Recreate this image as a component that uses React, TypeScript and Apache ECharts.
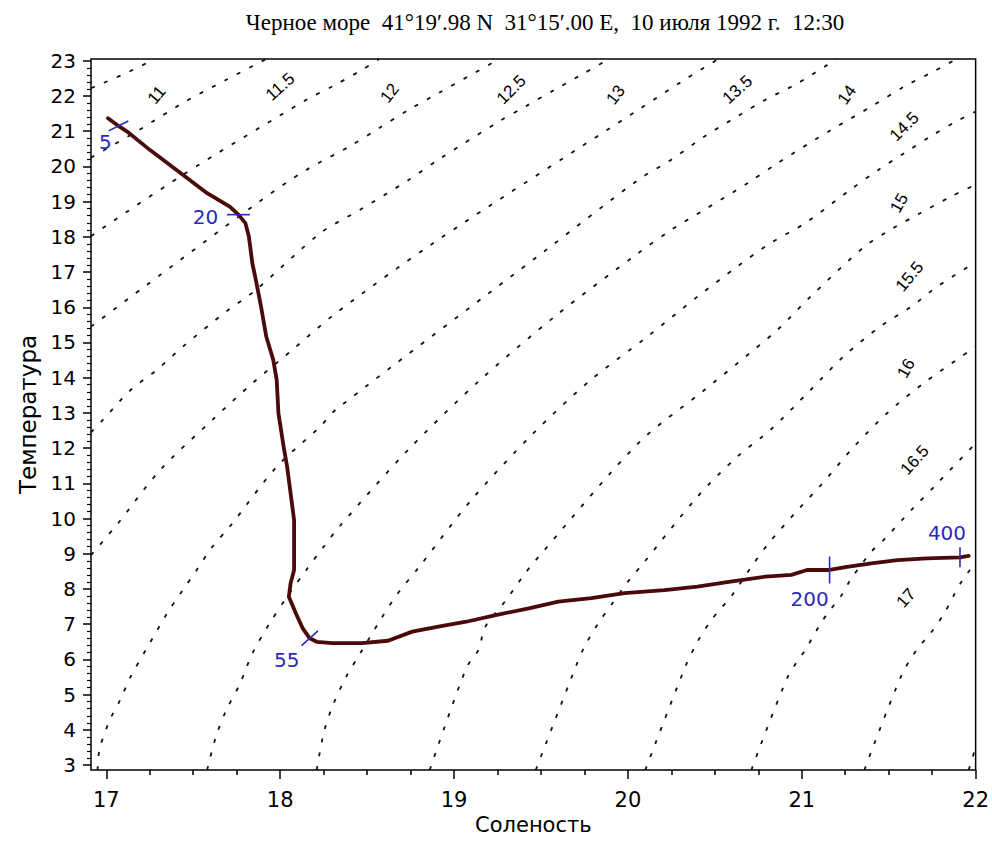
import React, { useEffect, useRef } from 'react';
import * as echarts from 'echarts';

// ---------- texts ----------
const TITLE = 'Черное море\u00a0 41°19′.98 N\u00a0 31°15′.00 E,\u00a0 10 июля 1992 г.\u00a0 12:30';
const X_NAME = 'Соленость';
const Y_NAME = 'Температура';

// ---------- axes ----------
const X_MIN = 16.912;
const X_MAX = 22;
const Y_MIN = 2.86;
const Y_MAX = 23.05;
const xTickValues = [17, 18, 19, 20, 21, 22];
const yTickValues = [3, 4, 5, 6, 7, 8, 9, 10, 11, 12, 13, 14, 15, 16, 17, 18, 19, 20, 21, 22, 23];

// ---------- T-S profile ----------
const profileSalinity = [
  17.01, 17.07, 17.12, 17.25, 17.44, 17.58, 17.71, 17.76, 17.8, 17.82, 17.84, 17.86, 17.89, 17.92,
  17.96, 17.98, 17.99, 18.02, 18.04, 18.06, 18.08, 18.08, 18.06, 18.05, 18.09, 18.13, 18.17, 18.21,
  18.3, 18.47, 18.62, 18.76, 18.91, 19.07, 19.24, 19.43, 19.6, 19.79, 19.98, 20.21, 20.4, 20.59,
  20.79, 20.94, 21.03, 21.16, 21.26, 21.4, 21.55, 21.72, 21.91, 21.96,
];
const profileTemperature = [
  21.37, 21.15, 20.99, 20.47, 19.76, 19.24, 18.86, 18.63, 18.39, 18.01, 17.25, 16.78, 16.02, 15.17,
  14.51, 13.94, 12.99, 12.04, 11.47, 10.72, 9.96, 8.54, 8.16, 7.78, 7.31, 6.88, 6.6, 6.5,
  6.46, 6.46, 6.53, 6.79, 6.93, 7.07, 7.26, 7.45, 7.64, 7.74, 7.88, 7.97, 8.07, 8.21,
  8.35, 8.4, 8.54, 8.54, 8.63, 8.73, 8.82, 8.87, 8.9, 8.94,
];

// ---------- depth marks ----------
const depthLabels = [5, 20, 55, 200, 400];
const depthSalinity = [17.07, 17.76, 18.17, 21.16, 21.91];
const depthTemperature = [21.15, 18.63, 6.6, 8.54, 8.9];

// ---------- isopycnals (salinity, temperature) ----------
const iso105 = [[16.912, 22.22], [17.1, 22.62], [17.28, 23.05]];
const iso110 = [[16.912, 20.25], [17.19, 21.04], [17.44, 21.8], [17.69, 22.46], [17.92, 23.05]];
const iso115 = [[16.912, 18.02], [17.44, 19.76], [18.15, 21.89], [18.3, 22.27], [18.47, 22.74], [18.57, 23.05]];
const iso120 = [[16.912, 15.45], [17.21, 16.55], [17.88, 19.0], [18.15, 19.9], [18.4, 20.57], [18.57, 21.09], [18.74, 21.61], [18.91, 22.08], [19.26, 23.05]];
const iso125 = [[16.912, 12.45], [16.98, 12.8], [17.14, 13.65], [17.29, 14.22], [17.44, 14.88], [17.69, 15.88], [17.86, 16.49], [18.23, 18.1], [18.46, 18.77], [18.74, 19.62], [18.91, 20.19], [19.26, 21.28], [19.41, 21.7], [19.58, 22.18], [19.75, 22.65], [19.89, 23.05]];
const iso130 = [[16.912, 8.96], [17.06, 9.82], [17.31, 11.38], [17.61, 12.8], [17.84, 13.84], [18.07, 14.79], [18.32, 15.83], [18.88, 17.82], [20.06, 21.61], [20.31, 22.41], [20.52, 23.05]];
const iso135 = [[16.95, 2.86], [16.96, 3.43], [17.02, 4.28], [17.08, 4.85], [17.14, 5.51], [17.25, 6.46], [17.35, 7.31], [17.44, 7.97], [17.52, 8.54], [17.61, 9.2], [17.71, 9.77], [17.98, 11.47], [18.23, 12.61], [18.32, 13.09], [19.53, 17.63], [20.06, 19.62], [20.25, 20.19], [20.44, 20.85], [20.63, 21.42], [20.79, 21.89], [20.98, 22.37], [21.2, 23.05]];
const iso140 = [[17.58, 2.86], [17.63, 3.8], [17.69, 4.56], [17.77, 5.32], [17.84, 6.17], [17.94, 7.03], [18.04, 7.78], [18.15, 8.54], [18.25, 9.2], [18.34, 9.77], [18.74, 11.97], [19.14, 13.89], [19.59, 15.78], [20.06, 17.54], [20.25, 18.2], [20.44, 18.77], [20.69, 19.53], [20.86, 20.09], [21.17, 21.04], [21.4, 21.7], [21.59, 22.27], [21.74, 22.65], [21.89, 23.05]];
const iso145 = [[18.21, 2.86], [18.25, 3.9], [18.3, 4.66], [18.38, 5.51], [18.46, 6.17], [18.57, 7.07], [18.67, 7.83], [18.8, 8.63], [19.1, 10.53], [19.45, 12.39], [19.78, 13.91], [20.1, 15.12], [20.4, 16.3], [20.63, 17.16], [20.82, 17.82], [21.02, 18.39], [21.28, 19.34], [21.44, 19.9], [21.59, 20.38], [21.74, 20.85], [21.89, 21.28], [22.0, 21.56]];
const iso150 = [[18.86, 2.86], [19.07, 5.75], [19.14, 6.27], [19.18, 6.93], [19.3, 7.69], [19.41, 8.45], [19.47, 8.82], [20.06, 12.14], [20.44, 13.65], [20.63, 14.41], [20.86, 15.36], [21.05, 16.3], [21.36, 17.72], [21.51, 18.2], [21.68, 18.67], [21.86, 19.15], [22.0, 19.48]];
const iso155 = [[19.47, 2.86], [19.7, 5.79], [19.75, 6.36], [19.83, 7.03], [19.91, 7.59], [20.0, 8.21], [20.08, 8.68], [20.4, 10.62], [20.63, 11.76], [20.82, 12.52], [21.05, 13.65], [21.24, 14.6], [21.45, 15.45], [21.63, 16.02], [21.78, 16.59], [22.0, 17.28]];
const iso160 = [[20.1, 2.86], [20.33, 5.79], [20.4, 6.5], [20.48, 7.12], [20.6, 7.83], [20.71, 8.63], [20.81, 9.3], [20.96, 10.15], [21.11, 10.95], [21.3, 12.04], [21.49, 12.99], [21.7, 13.84], [22.0, 14.88]];
const iso165 = [[20.71, 2.86], [20.92, 5.51], [21.02, 6.27], [21.11, 7.03], [21.17, 7.45], [21.23, 7.83], [21.28, 8.26], [21.4, 9.06], [21.47, 9.39], [21.63, 10.24], [21.78, 11.0], [22.0, 12.14]];
const iso170 = [[21.36, 2.86], [21.57, 5.51], [21.66, 6.27], [21.74, 6.74], [21.82, 7.31], [21.87, 7.78], [21.93, 8.3], [22.0, 8.73]];
const iso175 = [[21.96, 2.86], [22.0, 3.5]];

// ---------- isopycnal labels ----------
const isoLabelText = ['11', '11.5', '12', '12.5', '13', '13.5', '14', '14.5', '15', '15.5', '16', '16.5', '17'];
const isoLabelSalinity = [17.29, 18.0, 18.63, 19.33, 19.93, 20.63, 21.26, 21.59, 21.56, 21.62, 21.6, 21.65, 21.6];
const isoLabelTemperature = [22.03, 22.26, 22.08, 22.18, 22.03, 22.18, 22.03, 21.13, 18.96, 16.87, 14.27, 11.66, 7.74];

// ---------- styles ----------
const SANS = "'Liberation Sans', Arial, sans-serif";
const WIDE_SANS = "'DejaVu Sans', 'Liberation Sans', Arial, sans-serif";
const SERIF = "'Liberation Serif', 'Times New Roman', serif";
const PROFILE_COLOR = '#4a0a0a';
const DEPTH_COLOR = '#2b2bb5';
const markerAngle = [27, 0, 42, 90, 90];
const markerLength = [22, 23, 22, 27, 20];
const markerLabelOffset = [[-13, 16], [-33, 2], [-23, 22], [-20, 29], [-13, -24]];
// anticlockwise rotation (degrees) of the isopycnal labels
const isoLabelRotation = [50, 42, 52, 45, 52, 42, 55, 45, 60, 50, 60, 48, 48];

export default function App() {
  const ref = useRef<HTMLDivElement | null>(null);

  useEffect(() => {
    if (!ref.current) return;
    const chart = echarts.init(ref.current, undefined, { renderer: 'svg' });

    const xMinorValues = xTickValues.slice(0, -1).flatMap((v) => [0.25, 0.5, 0.75].map((f) => v + f));
    const yMinorValues = yTickValues.slice(0, -1).flatMap((v) => [0.2, 0.4, 0.6, 0.8].map((f) => +(v + f).toFixed(1)));

    const curves = [iso105, iso110, iso115, iso120, iso125, iso130, iso135, iso140, iso145, iso150, iso155, iso160, iso165, iso170, iso175];

    const isoSeries = curves.map((c, i) => ({
      type: 'line',
      name: 'iso' + i,
      data: c,
      showSymbol: false,
      symbol: 'none',
      smooth: 0.3,
      clip: true,
      silent: true,
      z: 2,
      lineStyle: { color: '#111', width: 1.8, type: [4, 10] },
    }));

    const option: any = {
      animation: false,
      backgroundColor: '#ffffff',
      graphic: [
        {
          type: 'text',
          x: 545,
          y: 22,
          style: {
            text: TITLE,
            font: `23px ${SERIF}`,
            fill: '#000',
            align: 'center',
            verticalAlign: 'middle',
          },
        },
      ],
      grid: {
        left: 91,
        right: 13,
        top: 59,
        bottom: 77,
        show: true,
        borderColor: '#000',
        borderWidth: 1.5,
        backgroundColor: 'transparent',
      },
      xAxis: [
        {
          type: 'value',
          min: X_MIN,
          max: X_MAX,
          position: 'bottom',
          name: X_NAME,
          nameLocation: 'middle',
          nameGap: 42,
          nameTextStyle: { color: '#000', fontSize: 21, fontFamily: WIDE_SANS },
          axisLine: { show: false },
          axisTick: { show: true, customValues: xTickValues, length: 9, lineStyle: { color: '#000', width: 1.5 } },
          axisLabel: { show: true, customValues: xTickValues, margin: 19, color: '#000', fontSize: 21, fontFamily: WIDE_SANS },
          splitLine: { show: false },
        },
        {
          type: 'value',
          min: X_MIN,
          max: X_MAX,
          position: 'bottom',
          axisLine: { show: false },
          axisTick: { show: true, customValues: xMinorValues, length: 5, lineStyle: { color: '#000', width: 1.5 } },
          axisLabel: { show: false },
          splitLine: { show: false },
        },
      ],
      yAxis: [
        {
          type: 'value',
          min: Y_MIN,
          max: Y_MAX,
          position: 'left',
          name: Y_NAME,
          nameLocation: 'middle',
          nameGap: 50,
          nameRotate: 90,
          nameTextStyle: { color: '#000', fontSize: 23, fontFamily: WIDE_SANS },
          axisLine: { show: false },
          axisTick: { show: true, customValues: yTickValues, length: 8, lineStyle: { color: '#000', width: 1.5 } },
          axisLabel: { show: true, customValues: yTickValues, margin: 15, color: '#000', fontSize: 20, fontFamily: WIDE_SANS },
          splitLine: { show: false },
        },
        {
          type: 'value',
          min: Y_MIN,
          max: Y_MAX,
          position: 'left',
          axisLine: { show: false },
          axisTick: { show: true, customValues: yMinorValues, length: 4, lineStyle: { color: '#000', width: 1.2 } },
          axisLabel: { show: false },
          splitLine: { show: false },
        },
      ],
      series: [
        ...isoSeries,
        {
          type: 'custom',
          name: 'isoLabels',
          silent: true,
          z: 3,
          data: isoLabelSalinity.map((s, i) => [s, isoLabelTemperature[i]]),
          renderItem: (params: any, api: any) => {
            const p = api.coord([api.value(0), api.value(1)]);
            const i = params.dataIndex;
            return {
              type: 'text',
              x: p[0],
              y: p[1],
              rotation: (isoLabelRotation[i] * Math.PI) / 180,
              style: {
                text: isoLabelText[i],
                fill: '#000',
                fontSize: 17,
                fontFamily: SANS,
                align: 'center',
                verticalAlign: 'middle',
              },
            };
          },
        },
        {
          type: 'line',
          name: 'profile',
          data: profileSalinity.map((s, i) => [s, profileTemperature[i]]),
          showSymbol: false,
          symbol: 'none',
          smooth: false,
          silent: true,
          z: 5,
          lineStyle: { color: PROFILE_COLOR, width: 3.8, join: 'round', cap: 'round' },
        },
        {
          type: 'custom',
          name: 'depths',
          silent: true,
          z: 6,
          data: depthSalinity.map((s, i) => [s, depthTemperature[i]]),
          renderItem: (params: any, api: any) => {
            const p = api.coord([api.value(0), api.value(1)]);
            const i = params.dataIndex;
            const a = (markerAngle[i] * Math.PI) / 180;
            const h = markerLength[i] / 2;
            const dx = Math.cos(a) * h;
            const dy = -Math.sin(a) * h;
            return {
              type: 'group',
              children: [
                {
                  type: 'line',
                  shape: { x1: p[0] - dx, y1: p[1] - dy, x2: p[0] + dx, y2: p[1] + dy },
                  style: { stroke: DEPTH_COLOR, lineWidth: 1.6 },
                },
                {
                  type: 'text',
                  x: p[0] + markerLabelOffset[i][0],
                  y: p[1] + markerLabelOffset[i][1],
                  style: {
                    text: String(depthLabels[i]),
                    fill: DEPTH_COLOR,
                    fontSize: 20,
                    fontFamily: WIDE_SANS,
                    align: 'center',
                    verticalAlign: 'middle',
                  },
                },
              ],
            };
          },
        },
      ],
    };

    chart.setOption(option);
    return () => chart.dispose();
  }, []);

  return (
    <div
      ref={ref}
      style={{ position: 'fixed', left: 0, top: 0, width: 992, height: 847, background: '#fff' }}
    />
  );
}
